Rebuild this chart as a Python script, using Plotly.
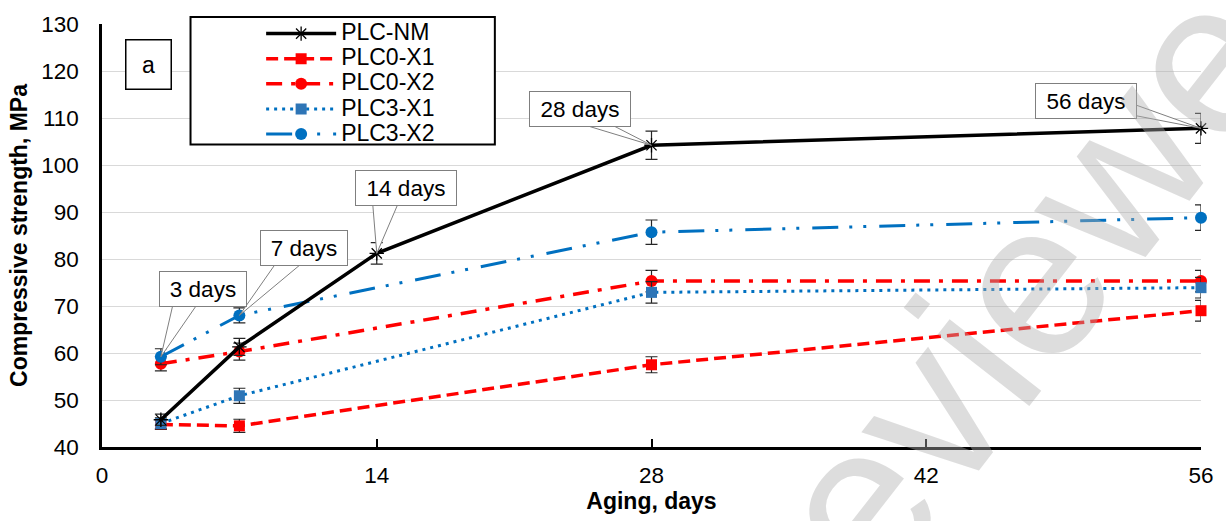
import plotly.graph_objects as go

# Curing ages (days) and compressive strength results (MPa) with scatter (+/-)
days_nm = [3, 7, 14, 28, 56]
days = [3, 7, 28, 56]

plc_nm = [45.8, 61.3, 81.2, 104.2, 107.8]
plc_nm_err = [1.2, 1.8, 2.3, 3.0, 3.2]

plc0_x1 = [44.8, 44.5, 57.5, 69.0]
plc0_x1_err = [1.0, 1.4, 1.7, 2.2]

plc0_x2 = [57.7, 60.3, 75.3, 75.3]
plc0_x2_err = [1.5, 1.8, 2.3, 2.3]

plc3_x1 = [45.0, 50.9, 72.9, 73.9]
plc3_x1_err = [1.2, 1.6, 2.3, 2.2]

plc3_x2 = [59.2, 68.0, 85.7, 88.8]
plc3_x2_err = [1.7, 1.6, 2.6, 2.7]

x_ticks = [0, 14, 28, 42, 56]
y_ticks = [40, 50, 60, 70, 80, 90, 100, 110, 120, 130]

FONT = "Arial, Liberation Sans, sans-serif"

# plot area in pixels
L, R, T, B = 102, 19, 22, 74
W, H = 1226, 521
PW, PH = W - L - R, H - T - B


def px_to_domain(px, py):
    return (px - L) / PW, (H - B - py) / PH


def legend_name(s):
    return f'<span style="font-size:23px">{s}</span>'


def err(vals):
    return dict(type="data", array=vals, visible=True, color="#262626",
                thickness=1.2, width=6)


series = [
    ("PLC-NM", days_nm, plc_nm, plc_nm_err,
     dict(color="black", width=3.5, dash="solid"),
     dict(symbol="asterisk-open", size=12, color="black",
          line=dict(color="black", width=1.3)), 1),
    ("PLC0-X1", days, plc0_x1, plc0_x1_err,
     dict(color="#FF0000", width=3.5, dash="12px,6px"),
     dict(symbol="square", size=11, color="#FF0000"), 2),
    ("PLC0-X2", days, plc0_x2, plc0_x2_err,
     dict(color="#FF0000", width=3.5, dash="16px,9px,4px,9px"),
     dict(symbol="circle", size=12, color="#FF0000"), 3),
    ("PLC3-X1", days, plc3_x1, plc3_x1_err,
     dict(color="#0070C0", width=3, dash="3px,5px"),
     dict(symbol="square", size=11, color="#2E75B6"), 4),
    ("PLC3-X2", days, plc3_x2, plc3_x2_err,
     dict(color="#0070C0", width=3, dash="26px,11px,3px,11px,3px,13px"),
     dict(symbol="circle", size=12, color="#0070C0"), 5),
]

fig = go.Figure()
# draw the reference mix last so it sits on top
for name, xs, ys, es, line, marker, rank in series[1:] + series[:1]:
    fig.add_trace(go.Scatter(
        x=xs, y=ys, name=legend_name(name), mode="lines+markers",
        line=line, marker=marker, error_y=err(es), cliponaxis=False,
        legendrank=rank,
    ))

# callout labels for the reference mix curing ages
callouts = [
    # text, x, y, box shift (px), wedge base points relative to the point (px)
    ("3 days", days[0], plc3_x2[0], (42, 68), [(12, 52), (36, 52)]),
    ("7 days", days[1], plc3_x2[1], (65, 67), [(35, 50), (60, 50)]),
    ("14 days", days_nm[2], plc_nm[2], (29, 65), [(-4, 49), (21, 49)]),
    ("28 days", days_nm[3], plc_nm[3], (-72, 36), [(-66, 20), (-39, 20)]),
    ("56 days", days_nm[4], plc_nm[4], (-115, 27), [(-67, 24), (-67, 13)]),
]
for text, xv, yv, (sx, sy), pts in callouts:
    (ax1, ay1), (ax2, ay2) = pts
    fig.add_shape(
        type="path", xref="x", yref="y", xsizemode="pixel", ysizemode="pixel",
        xanchor=xv, yanchor=yv,
        path=f"M {ax1},{ay1} L 0,0 L {ax2},{ay2} Z",
        line=dict(color="#7F7F7F", width=1), fillcolor="white", layer="above",
    )
    fig.add_annotation(
        x=xv, y=yv, xref="x", yref="y", text=text, showarrow=False,
        xshift=sx, yshift=sy, xanchor="center", yanchor="middle",
        width=78 if len(text) < 7 else 92, height=26,
        font=dict(family=FONT, size=22.5, color="black"),
        bgcolor="white", bordercolor="#7F7F7F", borderwidth=1, borderpad=4,
    )

# legend frame
lx0, ly0 = px_to_domain(191, 143)
lx1, ly1 = px_to_domain(497, 15)
fig.add_shape(type="rect", xref="paper", yref="paper",
              x0=lx0, x1=lx1, y0=ly0, y1=ly1,
              line=dict(color="black", width=2), fillcolor="white", layer="above")

# panel letter
ax_, ay_ = px_to_domain(149, 63)
fig.add_annotation(
    x=ax_, y=ay_, xref="paper", yref="paper", text="a", showarrow=False,
    xanchor="center", yanchor="middle",
    font=dict(family=FONT, size=23, color="black"),
    width=40, height=44, bgcolor="white", bordercolor="black", borderwidth=1.5,
    borderpad=2,
)

# watermark
wx, wy = px_to_domain(1048, 264)
fig.add_annotation(
    x=wx, y=wy, xref="x domain", yref="y domain", text="reviewed",
    showarrow=False, textangle=-52, xanchor="center", yanchor="middle",
    font=dict(family=FONT, size=220, color="rgba(175,175,175,0.42)"),
)

lgx, lgy = px_to_domain(262, 14)
fig.update_layout(
    width=W, height=H,
    margin=dict(l=L, r=R, t=T, b=B),
    paper_bgcolor="white", plot_bgcolor="white",
    font=dict(family=FONT, color="black"),
    showlegend=True,
    legend=dict(
        x=lgx, y=lgy, xanchor="left", yanchor="top",
        bgcolor="rgba(0,0,0,0)", borderwidth=0,
        font=dict(family=FONT, size=17, color="black"),
        itemwidth=70, tracegroupgap=0,
    ),
    xaxis=dict(
        range=[0, 56], tickvals=x_ticks, showgrid=False, zeroline=False,
        showline=True, linecolor="black", linewidth=2.5,
        ticks="inside", ticklen=8, tickwidth=2, tickcolor="black",
        tickfont=dict(family=FONT, size=22.5, color="black"),
        ticklabelstandoff=6,
        title=dict(text="<b>Aging, days</b>", standoff=4,
                   font=dict(family=FONT, size=23, color="black")),
    ),
    yaxis=dict(
        range=[40, 130], tickvals=y_ticks, showgrid=True, gridcolor="#D9D9D9",
        gridwidth=1.3, zeroline=False, showline=True, linecolor="black",
        linewidth=2.5, ticks="", ticklabelstandoff=16,
        tickfont=dict(family=FONT, size=22.5, color="black"),
        title=dict(text="<b>Compressive strength, MPa</b>", standoff=8,
                   font=dict(family=FONT, size=23, color="black")),
    ),
)

fig.write_html("out.html")
